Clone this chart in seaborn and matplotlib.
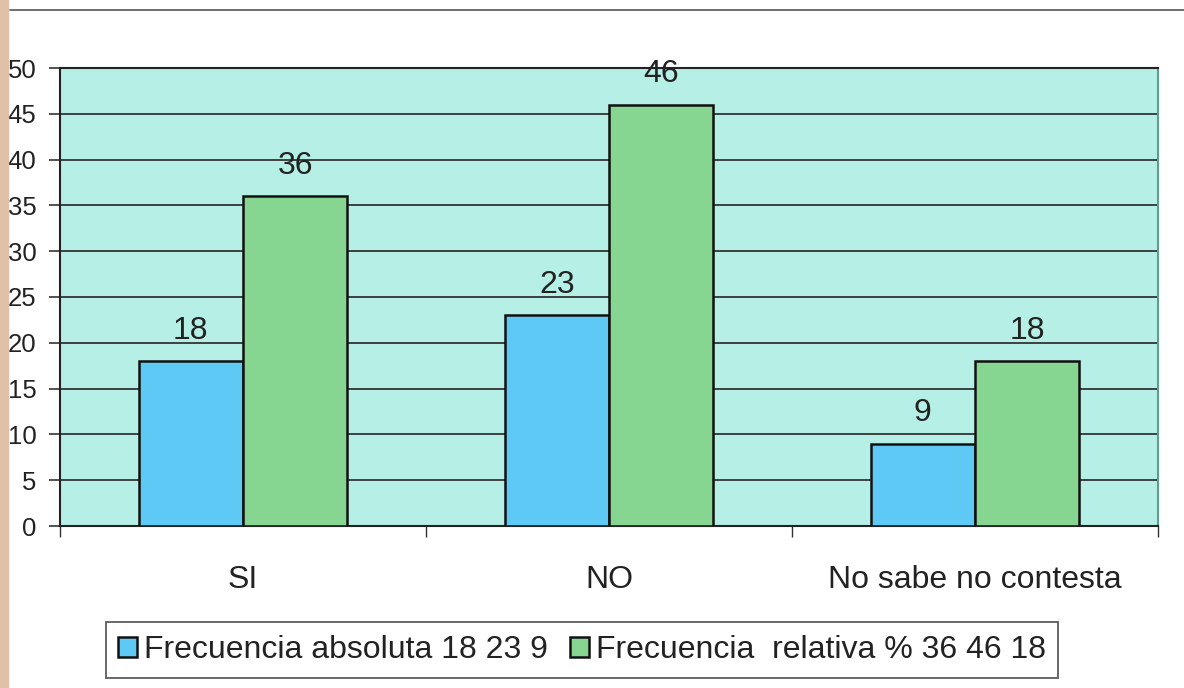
import pandas as pd
import matplotlib
matplotlib.use('Agg')
import matplotlib.pyplot as plt
import seaborn as sns
from matplotlib.lines import Line2D
from matplotlib.patches import Rectangle

# values
categorias = ["SI", "NO", "No sabe no contesta"]
frec_absoluta = [18, 23, 9]
frec_relativa = [36, 46, 18]
serie_abs = "Frecuencia absoluta 18 23 9"
serie_rel = "Frecuencia  relativa % 36 46 18"
yticks = [0, 5, 10, 15, 20, 25, 30, 35, 40, 45, 50]

df = pd.DataFrame({
    "Categoria": categorias * 2,
    "Valor": frec_absoluta + frec_relativa,
    "Serie": [serie_abs] * 3 + [serie_rel] * 3,
})

sns.set_style("white")
plt.rcParams['font.family'] = ['Liberation Sans', 'DejaVu Sans']

fig = plt.figure(figsize=(11.84, 6.88), dpi=100)
ax = fig.add_axes([60 / 1184, 1 - 526 / 688, 1098 / 1184, 458 / 688])
ax.set_facecolor("#b5efe5")

sns.barplot(data=df, x="Categoria", y="Valor", hue="Serie", order=categorias,
            palette=["#5fc9f6", "#86d591"], width=0.57, gap=0,
            edgecolor="#111111", linewidth=1.8, saturation=1, ax=ax, zorder=3)

for cont in ax.containers:
    ax.bar_label(cont, fmt="%d", padding=11, fontsize=23, color="#222222")

ax.set_ylim(0, 50)
ax.set_xlim(-0.5, 2.5)
ax.set_yticks(yticks)
ax.set_yticklabels([str(v) for v in yticks], fontsize=18.5, color="#222222")
ax.yaxis.grid(True, color="#333333", linewidth=1.3)
ax.set_axisbelow(True)
ax.set_xticks(range(3))
ax.set_xticklabels(categorias, fontsize=23, color="#222222")
ax.set_xticks([-0.5, 0.5, 1.5, 2.5], minor=True)
ax.tick_params(axis="x", which="major", length=0, pad=28)
ax.tick_params(axis="x", which="minor", length=8, width=1, color="#333333", direction="out", bottom=True)
ax.tick_params(axis="y", length=8, width=1.2, color="#333333", direction="out", left=True, pad=9)
ax.set_xlabel("")
ax.set_ylabel("")

for side in ["left", "bottom", "top"]:
    ax.spines[side].set_color("#222222")
    ax.spines[side].set_linewidth(1.5)
ax.spines["right"].set_color("#5aa08c")
ax.spines["right"].set_linewidth(1.5)

handles, labels = ax.get_legend_handles_labels()
ax.legend_.remove()
leg = fig.legend(handles, labels, loc="center", bbox_to_anchor=(582 / 1184, 1 - 650 / 688),
                 ncol=2, fontsize=23, frameon=True, fancybox=False, edgecolor="#222222",
                 handlelength=0.6, handleheight=0.6, handletextpad=0.2,
                 columnspacing=0.7, borderpad=0.4)
leg.get_frame().set_linewidth(1.2)
for t in leg.get_texts():
    t.set_color("#222222")

# scan artefacts: top rule and tan page edge
fig.add_artist(Line2D([10 / 1184, 1], [1 - 10 / 688] * 2, color="#555555", linewidth=1.2))
fig.add_artist(Rectangle((0, 0), 8 / 1184, 1, color="#e0c0a6", transform=fig.transFigure))

plt.savefig("out.png", dpi=100)
plt.close()
